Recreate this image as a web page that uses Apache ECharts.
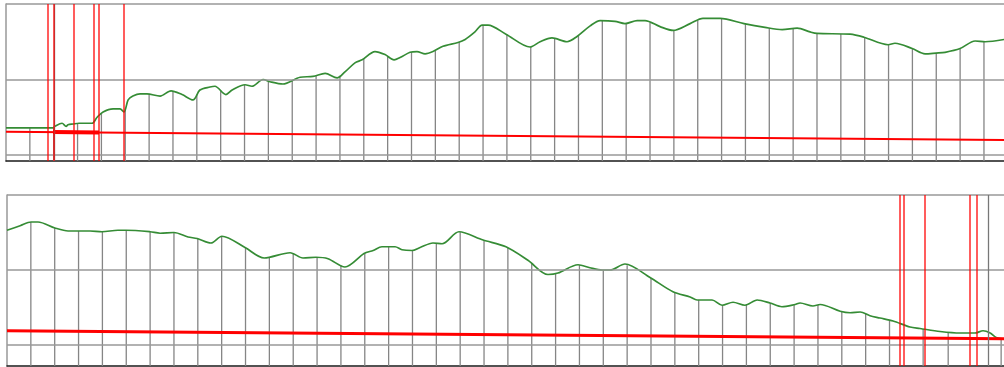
<!DOCTYPE html>
<html>
<head>
<meta charset="utf-8">
<script src="https://cdn.jsdelivr.net/npm/echarts@6/dist/echarts.min.js"></script>
<style>
  html, body { margin: 0; padding: 0; background: #fff; }
  #chart { width: 1004px; height: 367px; }
</style>
</head>
<body>
<div id="chart"></div>
<script>
// Elevation profile, split into two rows. Distance in km along each row, elevation in m.
const topKm = [
  0, 1.97, 2.05, 2.35, 2.52, 2.6, 2.81, 3.06, 3.61, 3.82,
  4.07, 4.49, 4.78, 4.95, 5.12, 5.32, 5.62, 5.91, 6.46, 6.92,
  7.38, 7.84, 8.13, 8.55, 8.76, 9.22, 9.48, 10.02, 10.31, 10.78,
  11.07, 11.61, 12.33, 12.87, 13.38, 13.88, 14.21, 14.63, 14.93, 15.47,
  15.89, 16.27, 16.52, 16.94, 17.23, 17.57, 17.9, 18.32, 18.95, 19.25,
  19.66, 19.96, 20.21, 20.96, 21.97, 22.39, 22.89, 23.52, 23.94, 24.49,
  24.91, 25.53, 25.95, 26.46, 26.79, 27.42, 27.97, 28.68, 29.22, 29.94,
  30.94, 31.82, 32.54, 33.17, 33.71, 34.0, 35.39, 35.97, 36.98, 37.27,
  37.99, 38.53, 38.99, 39.37, 40.0, 40.63, 41.05, 41.84
];
const topElev = [
  36, 36, 38, 42, 38, 40, 41, 42, 42, 50,
  57, 61, 61, 57, 73, 78, 81, 81, 78, 85,
  80, 73, 86, 90, 91, 80, 86, 93, 91, 100,
  97, 94, 103, 104, 108, 102, 110, 122, 126, 137,
  133, 126, 129, 136, 137, 134, 137, 144, 149, 153,
  163, 172, 172, 160, 143, 150, 155, 150, 157, 171,
  178, 177, 174, 178, 178, 170, 165, 174, 181, 181,
  174, 169, 166, 168, 163, 161, 160, 156, 146, 148,
  141, 134, 135, 136, 141, 151, 150, 153
];
const bottomKm = [
  0, 0.55, 1.01, 1.3, 2.01, 2.56, 3.48, 3.98, 4.65, 4.99,
  6.0, 6.42, 7.0, 7.59, 7.97, 8.55, 9.01, 9.98, 10.78, 11.87,
  12.41, 12.96, 13.46, 14.17, 14.97, 15.35, 15.72, 16.27, 16.56, 16.98,
  17.32, 17.86, 18.24, 18.95, 19.96, 20.92, 21.84, 22.68, 23.1, 23.94,
  24.44, 24.95, 25.28, 25.91, 26.96, 27.92, 28.64, 28.93, 29.56, 29.98,
  30.44, 30.94, 31.45, 31.99, 32.49, 33.04, 33.25, 33.79, 34.09, 34.93,
  35.35, 35.77, 36.18, 36.6, 37.15, 37.86, 38.28, 39.12, 39.96, 40.59,
  40.92, 41.22, 41.47, 41.8
];
const bottomElev = [
  153, 159, 164, 164, 156, 152, 152, 151, 153, 153,
  151, 149, 150, 144, 142, 136, 145, 130, 116, 123,
  116, 117, 115, 104, 122, 126, 131, 131, 127, 126,
  130, 136, 135, 151, 140, 131, 113, 94, 96, 107,
  103, 100, 100, 108, 90, 71, 64, 60, 60, 53,
  57, 53, 60, 56, 51, 54, 56, 52, 54, 45,
  43, 44, 39, 36, 32, 24, 22, 18, 16, 16,
  19, 16, 10, 8
];

// Straight reference gradient line for each row: [km, m] at both ends
const topTrend = [[0, 30.9], [41.84, 19.9]];
const topTrendBold = [[1.97, 30.4], [3.9, 29.9]];
const bottomTrend = [[0, 19.1], [41.8, 8.4]];

// Kilometre drop lines
const topStems = [];
for (let k = 1; k <= 41; k++) topStems.push(k);
const bottomStems = [];
for (let k = 1; k <= 37; k++) bottomStems.push(k);
bottomStems.push(38.41, 39.46, 41.68);

// Full-height markers
const topRedMarks = [1.76, 2.01, 2.85, 3.69, 3.9, 4.95];
const bottomRedMarks = [37.44, 37.6, 38.49, 40.38, 40.67];
const topGrayMarks = [2.01];
const bottomGrayMarks = [41.13];

const elevLevels = [0, 100, 200];

const panels = [
  { km: topKm, elev: topElev, trend: topTrend, bold: topTrendBold, stems: topStems,
    red: topRedMarks, gray: topGrayMarks, xMax: 41.84, yMin: -8, trendWidth: 2,
    grid: { left: 6, right: 0, top: 4, bottom: 206 } },
  { km: bottomKm, elev: bottomElev, trend: bottomTrend, bold: null, stems: bottomStems,
    red: bottomRedMarks, gray: bottomGrayMarks, xMax: 41.8, yMin: -28, trendWidth: 3,
    grid: { left: 7, right: 0, top: 195, bottom: 1 } }
];

// Profile height at a given distance, along the drawn polyline
function elevAt(km, elev, k) {
  for (let i = 1; i < km.length; i++) {
    if (k <= km[i]) {
      const t = (k - km[i - 1]) / (km[i] - km[i - 1]);
      return elev[i - 1] + t * (elev[i] - elev[i - 1]);
    }
  }
  return elev[elev.length - 1];
}

const grids = [], xAxes = [], yAxes = [], series = [];
panels.forEach((p, i) => {
  grids.push(Object.assign({ containLabel: false }, p.grid));
  xAxes.push({
    type: 'value', gridIndex: i, min: 0, max: p.xMax,
    axisLine: { show: true, onZero: false, lineStyle: { color: '#1a1a1a', width: 1.5 } },
    axisTick: { show: false }, axisLabel: { show: false }, splitLine: { show: false }
  });
  yAxes.push({
    type: 'value', gridIndex: i, min: p.yMin, max: 200,
    axisLine: { show: true, lineStyle: { color: '#999', width: 1.5 } },
    axisTick: { show: false }, axisLabel: { show: false }, splitLine: { show: false }
  });

  // Drop lines from the profile to the baseline, plus horizontal elevation levels
  series.push({
    type: 'custom', xAxisIndex: i, yAxisIndex: i, z: 2, silent: true,
    data: p.stems.map(k => [k]),
    renderItem: (params, api) => {
      const k = api.value(0);
      const a = api.coord([k, elevAt(p.km, p.elev, k)]);
      const b = api.coord([k, p.yMin]);
      return { type: 'line', shape: { x1: a[0], y1: a[1], x2: b[0], y2: b[1] },
               style: { stroke: '#858585', lineWidth: 1.3 } };
    },
    markLine: {
      silent: true, symbol: 'none', label: { show: false }, animation: false,
      lineStyle: { color: '#999', width: 1.5, type: 'solid' },
      data: elevLevels.map(v => ({ yAxis: v }))
        .concat(p.gray.map(k => ({ xAxis: k, lineStyle: { color: '#777', width: 1.3 } })))
    }
  });

  // Elevation profile
  series.push({
    type: 'line', xAxisIndex: i, yAxisIndex: i, z: 3, silent: true,
    data: p.km.map((k, j) => [k, p.elev[j]]),
    showSymbol: false, animation: false, smooth: 0.3,
    lineStyle: { color: '#358c35', width: 1.7 }
  });

  // Gradient reference line and red markers
  series.push({
    type: 'line', xAxisIndex: i, yAxisIndex: i, z: 4, silent: true,
    data: p.trend, showSymbol: false, animation: false,
    lineStyle: { color: '#ff0000', width: p.trendWidth },
    markLine: {
      silent: true, symbol: 'none', label: { show: false }, animation: false,
      lineStyle: { color: 'rgba(255,0,0,0.85)', width: 1.5, type: 'solid' },
      data: p.red.map(k => ({ xAxis: k }))
    }
  });
  if (p.bold) {
    series.push({
      type: 'line', xAxisIndex: i, yAxisIndex: i, z: 4, silent: true,
      data: p.bold, showSymbol: false, animation: false,
      lineStyle: { color: '#ff0000', width: 4 }
    });
  }
});

const chart = echarts.init(document.getElementById('chart'), null, { renderer: 'canvas' });
chart.setOption({
  animation: false,
  backgroundColor: '#ffffff',
  grid: grids,
  xAxis: xAxes,
  yAxis: yAxes,
  series: series
});
</script>
</body>
</html>
